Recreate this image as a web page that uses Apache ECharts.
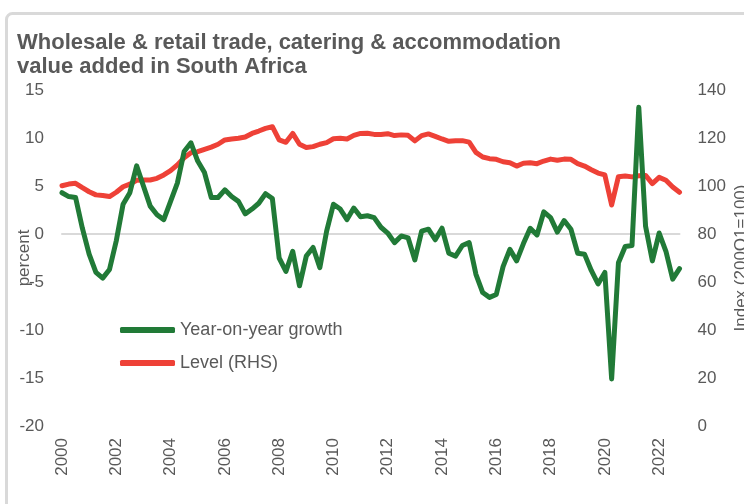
<!DOCTYPE html>
<html>
<head>
<meta charset="utf-8">
<script src="https://cdn.jsdelivr.net/npm/echarts@6/dist/echarts.min.js"></script>
<style>
  html, body { margin: 0; padding: 0; background: #fff; }
  #chart { width: 744px; height: 504px; }
</style>
</head>
<body>
<div id="chart"></div>
<script>
// quarters 2000Q1 .. 2022Q4
var firstYear = 2000;
var lastYear = 2022;
var quarters = [];
for (var y = firstYear; y <= lastYear; y++) {
  for (var q = 1; q <= 4; q++) quarters.push(y + 'Q' + q);
}

// year-on-year growth, percent (left axis)
var yoyGrowth = [
  4.3, 3.9, 3.8, 0.6, -2.1, -4.0, -4.6, -3.7,
  -0.7, 3.1, 4.3, 7.1, 5.0, 2.9, 2.0, 1.5,
  3.4, 5.3, 8.6, 9.5, 7.6, 6.4, 3.8, 3.8,
  4.6, 3.9, 3.4, 2.1, 2.6, 3.2, 4.2, 3.7,
  -2.5, -3.9, -1.8, -5.4, -2.3, -1.4, -3.5, 0.3,
  3.1, 2.6, 1.5, 2.7, 1.8, 1.9, 1.7, 0.7,
  0.1, -0.9, -0.2, -0.4, -2.7, 0.3, 0.5, -0.6,
  0.6, -2.0, -2.3, -1.2, -0.9, -4.2, -6.1, -6.6,
  -6.3, -3.4, -1.6, -2.8, -1.0, 0.6, -0.1, 2.3,
  1.7, 0.2, 1.4, 0.5, -2.0, -2.1, -3.8, -5.2,
  -4.0, -15.1, -3.0, -1.3, -1.2, 13.2, 0.8, -2.8,
  0.1, -1.8, -4.7, -3.6
];

// level index, 2000Q1 = 100 (right axis)
var levelIndex = [
  100.1, 100.8, 101.1, 99.3, 97.6, 96.3, 96.0, 95.6,
  97.4, 99.7, 100.8, 102.4, 102.5, 102.5, 103.2, 104.6,
  106.4, 108.8, 111.8, 113.9, 114.3, 115.3, 116.2, 117.4,
  119.2, 119.6, 119.9, 120.4, 121.9, 122.9, 124.0, 124.7,
  119.2, 118.2, 121.9, 117.4, 116.0, 116.4, 117.4, 118.1,
  119.7, 119.9, 119.6, 121.1, 121.9, 122.0, 121.5, 121.5,
  121.8, 121.0, 121.3, 121.1, 118.8, 121.0, 121.7, 120.7,
  119.6, 118.6, 118.9, 118.9, 118.3, 114.0, 112.1, 111.4,
  111.1, 110.1, 109.7, 108.3, 109.5, 109.7, 109.3, 110.4,
  111.2, 110.7, 111.2, 111.1, 109.3, 108.3, 106.8, 105.4,
  104.6, 92.1, 103.9, 104.2, 103.8, 104.3, 104.4, 101.0,
  103.6, 102.4, 99.6, 97.4
];

var leftTicks = [-20, 15, 5];
var rightTicks = [0, 140, 20];

var textColor = '#595959';
var fontFam = "'Liberation Sans', Arial, sans-serif";

var chart = echarts.init(document.getElementById('chart'));
var option = {
  animation: false,
  textStyle: { fontFamily: fontFam },
  title: {
    text: 'Wholesale & retail trade, catering & accommodation\nvalue added in South Africa',
    left: 12,
    top: 26,
    textStyle: {
      fontFamily: fontFam,
      fontSize: 22,
      fontWeight: 'bold',
      color: textColor,
      lineHeight: 24
    }
  },
  graphic: [{
    type: 'rect',
    left: 4,
    top: 11,
    shape: { width: 800, height: 560, r: 6 },
    style: { fill: 'none', stroke: '#d9d9d9', lineWidth: 3 },
    silent: true
  }],
  legend: {
    orient: 'vertical',
    left: 115,
    top: 315,
    itemWidth: 55,
    itemHeight: 6,
    itemGap: 13,
    icon: 'roundRect',
    textStyle: { fontSize: 18, color: textColor, lineHeight: 20, fontFamily: fontFam },
    data: ['Year-on-year growth', 'Level (RHS)']
  },
  grid: { left: 62, right: 64.5, top: 90, bottom: 78, containLabel: false, outerBoundsMode: 'none' },
  xAxis: [{
    type: 'category',
    data: quarters,
    boundaryGap: false,
    axisLine: { onZero: true, lineStyle: { color: '#d9d9d9', width: 2 } },
    axisTick: { show: false },
    axisLabel: { show: false }
  }, {
    type: 'category',
    data: quarters,
    boundaryGap: false,
    position: 'bottom',
    axisLine: { show: false },
    axisTick: { show: false },
    axisLabel: {
      interval: 7,
      rotate: 90,
      margin: 12,
      fontSize: 17,
      color: textColor,
      formatter: function (v) { return v.slice(0, 4); }
    }
  }],
  yAxis: [{
    type: 'value',
    min: leftTicks[0],
    max: leftTicks[1],
    interval: leftTicks[2],
    name: 'percent',
    nameLocation: 'middle',
    nameRotate: 90,
    nameGap: 29,
    nameMoveOverlap: false,
    nameTextStyle: { fontSize: 17, color: textColor },
    axisLine: { show: false },
    axisTick: { show: false },
    splitLine: { show: false },
    axisLabel: { fontSize: 17, color: textColor, margin: 18 }
  }, {
    type: 'value',
    min: rightTicks[0],
    max: rightTicks[1],
    interval: rightTicks[2],
    name: 'Index (200Q1=100)',
    nameLocation: 'middle',
    nameRotate: 90,
    nameGap: 53,
    nameMoveOverlap: false,
    nameTextStyle: { fontSize: 17, color: textColor },
    axisLine: { show: false },
    axisTick: { show: false },
    splitLine: { show: false },
    axisLabel: { fontSize: 17, color: textColor, margin: 18 }
  }],
  series: [{
    name: 'Year-on-year growth',
    type: 'line',
    yAxisIndex: 0,
    data: yoyGrowth,
    showSymbol: false,
    symbol: 'none',
    color: '#217a37',
    lineStyle: { width: 5, color: '#217a37', cap: 'round', join: 'round' },
    z: 3
  }, {
    name: 'Level (RHS)',
    type: 'line',
    yAxisIndex: 1,
    data: levelIndex,
    showSymbol: false,
    symbol: 'none',
    color: '#ee4137',
    lineStyle: { width: 5, color: '#ee4137', cap: 'round', join: 'round' },
    z: 2
  }]
};
chart.setOption(option);
</script>
</body>
</html>
